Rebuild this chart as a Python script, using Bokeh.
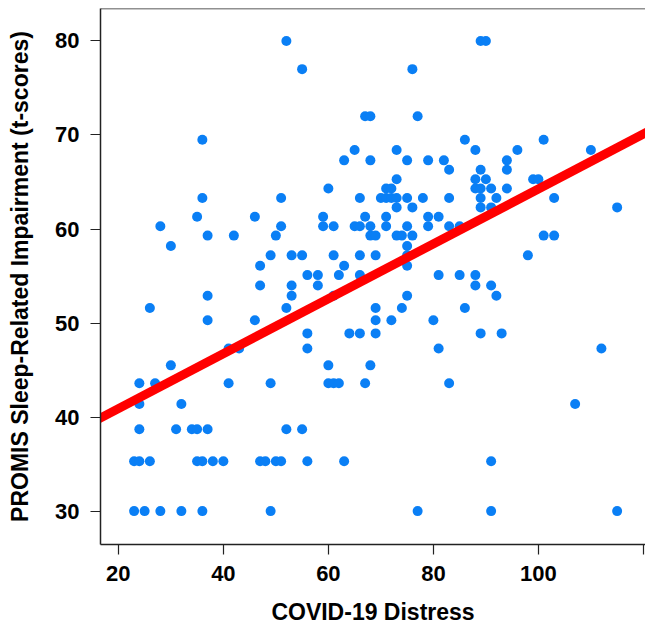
from bokeh.plotting import figure
from bokeh.models import Range1d, FixedTicker, Span
from bokeh.embed import file_html
from bokeh.resources import INLINE

# COVID-19 Distress (x) and PROMIS Sleep-Related Impairment t-score (y), one entry per participant
distress = [
    52, 89, 90,
    55, 76,
    67, 68, 77,
    36, 86, 101,
    65, 73, 88, 96, 110,
    63, 68, 75, 79, 82, 94,
    83, 89, 94,
    73, 88, 90, 99, 100,
    60, 71, 72, 88, 89, 91, 94,
    36, 51, 66, 70, 71, 72, 73, 75, 78, 83, 89, 92, 103,
    73, 76, 89, 91, 115,
    35, 46, 59, 67, 71, 79, 81,
    28, 51, 59, 61, 65, 66, 68, 71, 75, 79, 83, 85,
    37, 42, 50, 68, 69, 73, 74, 76, 101, 103,
    30, 75,
    49, 53, 55, 61, 66, 69, 75, 98,
    47, 63, 75,
    56, 58, 62, 66, 81, 85, 88,
    47, 53, 58, 88, 91,
    37, 53, 61, 75, 92,
    26, 52, 69, 74, 86,
    37, 46, 69, 72, 80,
    56, 64, 66, 69, 89, 93,
    41, 43, 56, 81, 112,
    30, 60, 68,
    24, 27, 41, 49, 60, 61, 62, 67, 83,
    24, 32, 107,
    24, 31, 34, 35, 37, 52, 55,
    23, 24, 26, 35, 36, 38, 40, 47, 48, 50, 51, 56, 63, 91,
    23, 25, 28, 32, 36, 49, 77, 91, 115,
]
sleep = (
    [80.0] * 3 + [77.0] * 2 + [72.0] * 3 + [69.5] * 3 + [68.4] * 5 + [67.3] * 6
    + [66.3] * 3 + [65.3] * 5 + [64.3] * 7 + [63.3] * 13 + [62.3] * 5 + [61.3] * 7
    + [60.3] * 12 + [59.3] * 10 + [58.2] * 2 + [57.2] * 8 + [56.1] * 3 + [55.1] * 7
    + [54.0] * 5 + [52.9] * 5 + [51.6] * 5 + [50.3] * 5 + [48.9] * 6 + [47.3] * 5
    + [45.5] * 3 + [43.6] * 9 + [41.4] * 3 + [38.7] * 7 + [35.3] * 14 + [30.0] * 9
)

x_ticks = [20, 40, 60, 80, 100, 120]
y_ticks = [30, 40, 50, 60, 70, 80]
fit_intercept = 35.06
fit_slope = 0.292

x_lo, x_hi = 16.6, 120.4
y_lo, y_hi = 26.45, 83.45

FONT = "Liberation Sans"

p = figure(width=645, height=627, output_backend="svg", toolbar_location=None,
           x_range=Range1d(x_lo, x_hi), y_range=Range1d(y_lo, y_hi),
           min_border_left=100, min_border_right=0, min_border_top=8,
           min_border_bottom=83)

p.background_fill_color = "white"
p.border_fill_color = "white"
p.outline_line_color = None
p.grid.visible = False

p.scatter(distress, sleep, size=10, color="#0A7FF5", line_color=None)

line_x = [x_lo - 5, x_hi + 5]
line_y = [fit_intercept + fit_slope * v for v in line_x]
p.line(line_x, line_y, line_color="#FF0000", line_width=9)

p.add_layout(Span(location=y_hi, dimension="width", line_color="#222222", line_width=1.5))

for ax in (p.xaxis[0], p.yaxis[0]):
    ax.axis_line_color = "#222222"
    ax.axis_line_width = 1.5
    ax.major_tick_out = 10
    ax.major_tick_in = 0
    ax.major_tick_line_color = "#222222"
    ax.major_tick_line_width = 1.2
    ax.minor_tick_line_color = None
    ax.major_label_text_font = FONT
    ax.major_label_text_font_style = "bold"
    ax.major_label_text_font_size = "22px"
    ax.major_label_text_color = "black"
    ax.axis_label_text_font = FONT
    ax.axis_label_text_font_style = "bold"
    ax.axis_label_text_font_size = "23px"
    ax.axis_label_text_color = "black"

p.xaxis.ticker = FixedTicker(ticks=x_ticks)
p.xaxis.major_label_overrides = {120: ""}
p.xaxis.axis_label = "COVID-19 Distress"
p.xaxis.major_label_standoff = 11
p.xaxis.axis_label_standoff = 15

p.yaxis.ticker = FixedTicker(ticks=y_ticks)
p.yaxis.axis_label = "PROMIS Sleep-Related Impairment (t-scores)"
p.yaxis.major_label_standoff = 11
p.yaxis.axis_label_standoff = 19

open("out.html", "w").write(file_html(p, INLINE))
